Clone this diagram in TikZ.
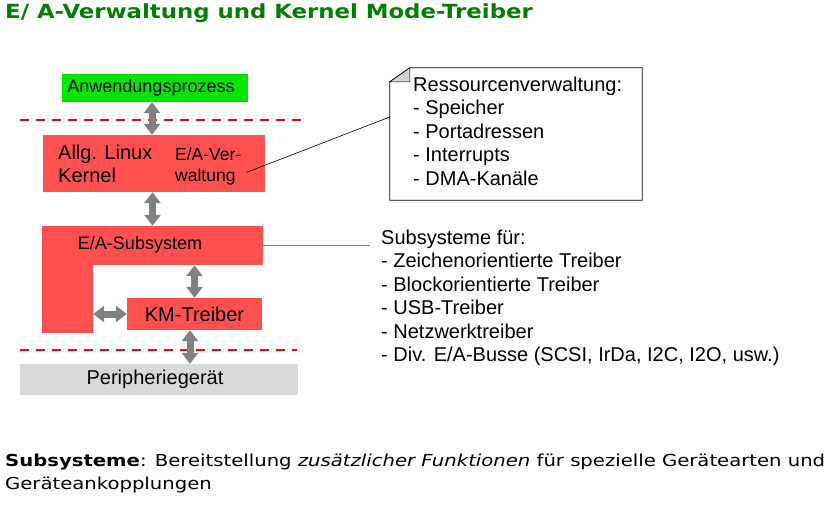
\documentclass[tikz,border=0pt]{standalone}
\usepackage{fontspec}
\setmainfont{Liberation Sans}
\newfontfamily\titlefont[FakeStretch=1.17]{DejaVu Sans}
\newfontfamily\notefont[FakeStretch=1.19]{DejaVu Sans}
\usepackage{tikz}
\usetikzlibrary{positioning}
\usetikzlibrary{arrows.meta}
\definecolor{kred}{RGB}{255,80,80}
\definecolor{appgreen}{RGB}{0,230,0}
\definecolor{titlegreen}{RGB}{0,128,0}
\definecolor{periphgray}{RGB}{217,217,217}
\definecolor{arrowgray}{RGB}{128,128,128}

\begin{document}
\begin{tikzpicture}[x=1pt,y=-1pt]
        \tikzstyle{block}=[rectangle,fill=kred,inner sep=0pt]
        \tikzstyle{lbl}=[inner sep=0pt,font=\fontsize{20}{23.5}\selectfont]
        \tikzstyle{small}=[inner sep=0pt,font=\fontsize{17.5}{21}\selectfont]
        \tikzstyle{dbl}=[{Triangle[width=16pt,length=11pt]}-{Triangle[width=16pt,length=11pt]},
            line width=7pt,arrowgray]
        \tikzstyle{border}=[red,line width=2pt,dash pattern=on 9pt off 7pt]

            \useasboundingbox (0,0) rectangle (831,504);

            \node[anchor=base west,inner sep=0pt,text=titlegreen,
            font=\titlefont\bfseries\fontsize{19.5}{23}\selectfont] (title) at (5,18.5)
            {E/ A-Verwaltung und Kernel Mode-Treiber};

            \node[rectangle,fill=appgreen,minimum width=186pt,minimum height=28pt,
            inner sep=0pt,font=\fontsize{18}{21}\selectfont] (app) at (155,88)
            {\hspace*{-8pt}Anwendungsprozess};

            \node[block,minimum width=222pt,minimum height=57pt] (kernel) at (154,163.5) {};
            \node[lbl,anchor=north west,align=left] (allg) at (58,144.5)
            {Allg. Linux\\Kernel};
            \node[small,anchor=north west,align=left] (eav) at (175,147.5)
            {E/A-Ver-\\waltung};

            \draw[border] (20,120) -- (302,120);
            \draw[border] (20,350) -- (297,350);

            \node[block,minimum width=221pt,minimum height=39pt] (sub) at (152.5,245.5) {};
            \node[block,minimum width=51pt,minimum height=69pt] (subleg) at (67.5,298.5) {};
            \node[lbl,font=\fontsize{18}{21}\selectfont] (subtxt) at (140,245)
            {E/A-Subsystem};

            \node[block,minimum width=135pt,minimum height=32pt,
            font=\fontsize{20}{23.5}\selectfont] (km) at (194.5,314) {KM-Treiber};

            \node[rectangle,fill=periphgray,minimum width=278pt,minimum height=31pt,
            inner sep=0pt,font=\fontsize{20}{23.5}\selectfont] (periph) at (159,379.5)
            {\raisebox{-2.5pt}{\hspace*{-8pt}Peripheriegerät}};

            \draw[dbl] ([xshift=-3pt]app.south) -- ([xshift=-2pt]kernel.north);
            \draw[dbl] (kernel.south -| sub.north) -- (sub.north);
            \draw[dbl] (km.north |- sub.south) -- (km.north);
            \draw[dbl] (km.west -| subleg.east) -- (km.west);
            \coordinate (kmout) at ([xshift=-4.5pt]km.south);
            \draw[dbl] (kmout) -- (kmout |- periph.north);

            \node[minimum width=252pt,minimum height=132pt,inner sep=0pt] (note)
            at (516,134) {};
            \draw[line width=0.8pt,fill=white] ([yshift=-14pt]note.north west) --
            ([xshift=20pt]note.north west) -- (note.north east) --
            (note.south east) -- (note.south west) -- cycle;
            \filldraw[line width=0.6pt,fill=gray!35] ([yshift=-14pt]note.north west) --
            ([xshift=20pt]note.north west) -- ([xshift=20pt,yshift=-14pt]note.north west)
            -- cycle;
            \node[lbl,anchor=north west,align=left] (notetxt) at (413,76.5)
            {Ressourcenverwaltung:\\- Speicher\\- Portadressen\\- Interrupts\\- DMA-Kanäle};

            \coordinate (eaend) at ([shift={(5pt,-6pt)}]eav.east);
            \draw[line width=0.6pt] (eaend) -- ([yshift=17pt]note.west);

            \node[lbl,anchor=north west,align=left] (subs) at (381,229.5)
            {Subsysteme für:\\- Zeichenorientierte Treiber\\- Blockorientierte Treiber\\
            - USB-Treiber\\- Netzwerktreiber\\- Div. E/A-Busse (SCSI, IrDa, I2C, I2O, usw.)};
            \coordinate (subsin) at ([xshift=-11pt]subs.west);
            \draw[arrowgray,line width=1pt] ([xshift=-16pt]sub.east) -- (sub.east -| subsin);

            \node[anchor=north west,inner sep=0pt,align=left,
            font=\notefont\fontsize{16.5}{22.5}\selectfont] (summary) at (5,454)
            {\textbf{Subsysteme}: Bereitstellung \textit{zusätzlicher Funktionen}
            für spezielle Gerätearten und\\Geräteankopplungen};
    \end{tikzpicture}
\end{document}
